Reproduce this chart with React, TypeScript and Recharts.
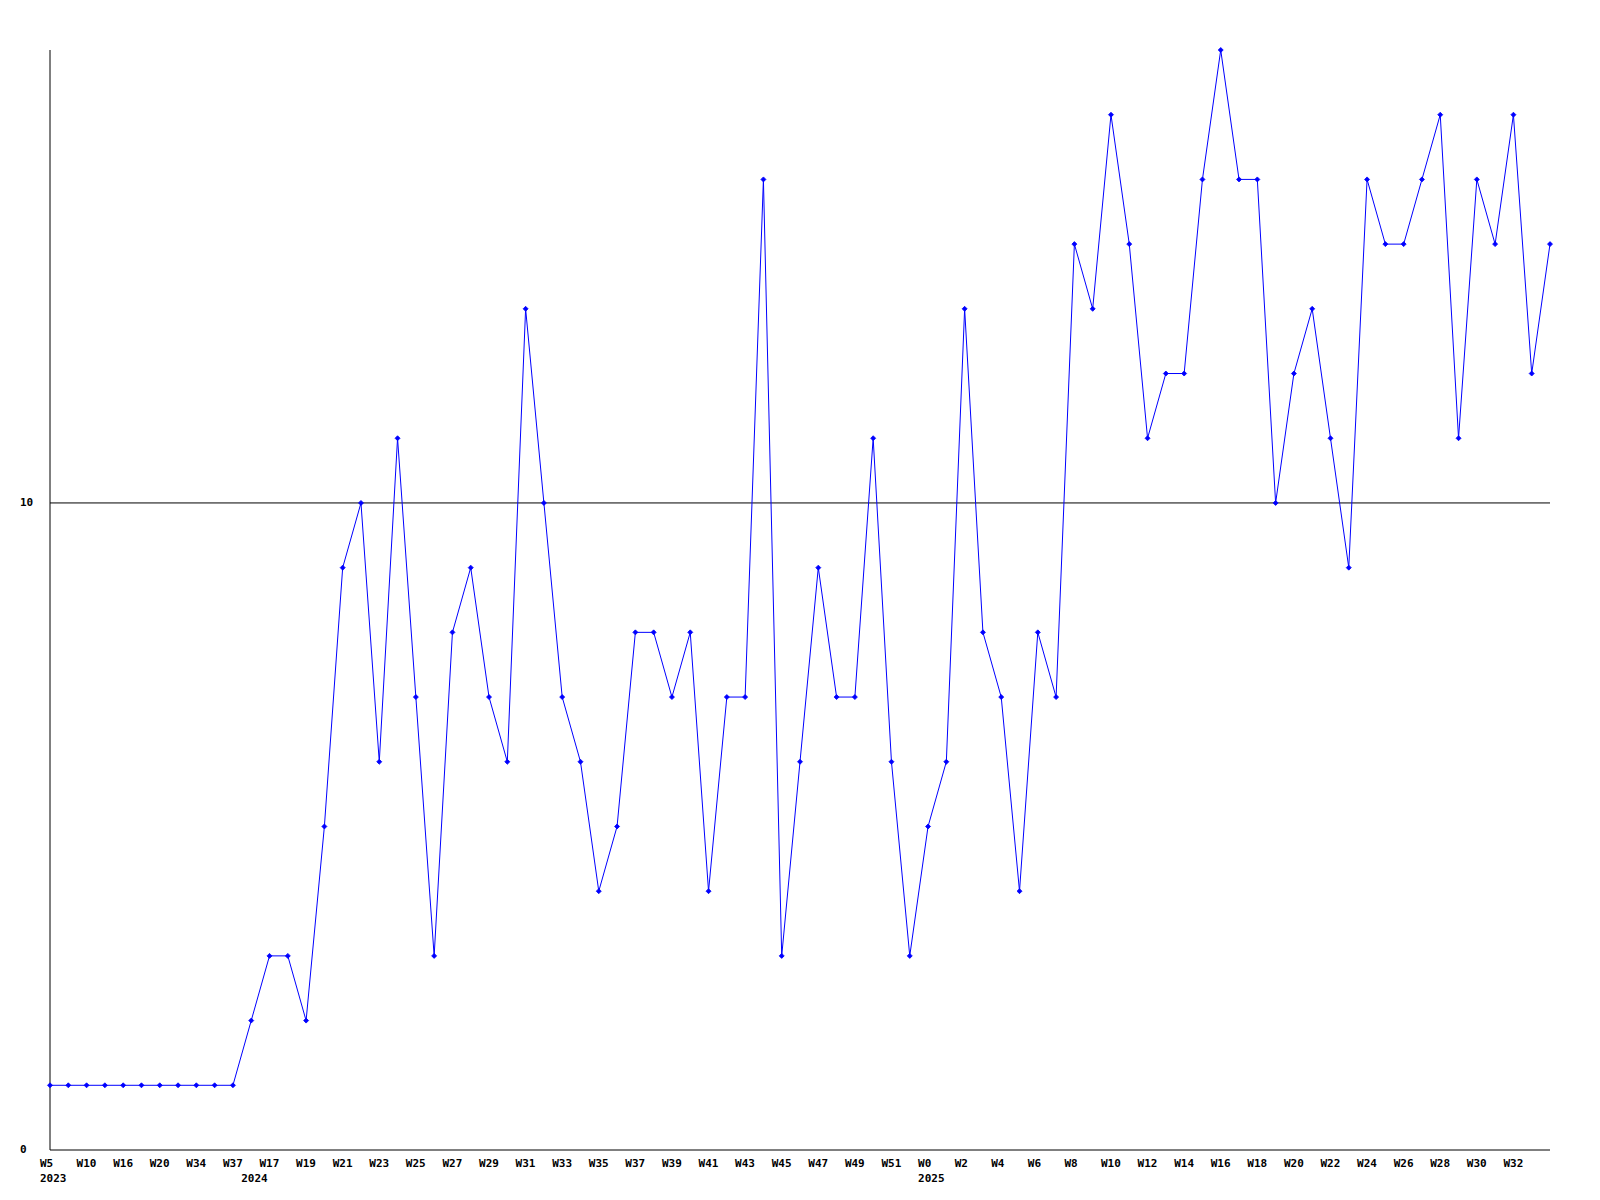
import { LineChart, Line, XAxis, YAxis, ReferenceLine } from "recharts";

const weeks2023 = ["W5", "W7", "W10", "W13", "W16", "W18", "W20", "W30", "W34", "W36", "W37"];
const weeks2024 = [
  "W16", "W17", "W18", "W19", "W20", "W21", "W22", "W23", "W24", "W25", "W26", "W27", "W28",
  "W29", "W30", "W31", "W32", "W33", "W34", "W35", "W36", "W37", "W38", "W39", "W40", "W41",
  "W42", "W43", "W44", "W45", "W46", "W47", "W48", "W49", "W50", "W51", "W52",
];
const weeks2025 = [
  "W0", "W1", "W2", "W3", "W4", "W5", "W6", "W7", "W8", "W9", "W10", "W11", "W12", "W13",
  "W14", "W15", "W16", "W17", "W18", "W19", "W20", "W21", "W22", "W23", "W24", "W25", "W26",
  "W27", "W28", "W29", "W30", "W31", "W32", "W33", "W34",
];

const counts2023 = [1, 1, 1, 1, 1, 1, 1, 1, 1, 1, 1];
const counts2024 = [
  2, 3, 3, 2, 5, 9, 10, 6, 11, 7, 3, 8, 9, 7, 6, 13, 10, 7, 6, 4, 5, 8, 8, 7, 8, 4, 7, 7, 15,
  3, 6, 9, 7, 7, 11, 6, 3,
];
const counts2025 = [
  5, 6, 13, 8, 7, 4, 8, 7, 14, 13, 16, 14, 11, 12, 12, 15, 17, 15, 15, 10, 12, 13, 11, 9, 15,
  14, 14, 15, 16, 11, 15, 14, 16, 12, 14,
];

const yTicks = [0, 10];

const data = [
  ...weeks2023.map((w, i) => ({ week: w, year: "2023", count: counts2023[i] })),
  ...weeks2024.map((w, i) => ({ week: w, year: "2024", count: counts2024[i] })),
  ...weeks2025.map((w, i) => ({ week: w, year: "2025", count: counts2025[i] })),
];

const FONT = "'DejaVu Sans Mono', monospace";

function WeekTick({ x, y, payload, index }: any) {
  const i = payload?.index ?? index;
  const row = data[i];
  const showYear = i === 0 || data[i - 1].year !== row.year;
  // last label would run past the plot edge, so it's left off
  const showWeek = i % 2 === 0 && i < data.length - 1;
  return (
    <g>
      {showWeek && (
        <text x={x - 10} y={y + 6} fontFamily={FONT} fontWeight="bold" fontSize={11} fill="#000" textAnchor="start" dominantBaseline="middle">
          {row.week}
        </text>
      )}
      {showYear && (
        <text x={x - 10} y={y + 21} fontFamily={FONT} fontWeight="bold" fontSize={11} fill="#000" textAnchor="start" dominantBaseline="middle">
          {row.year}
        </text>
      )}
    </g>
  );
}

function CountTick({ y, payload }: any) {
  return (
    <text x={20} y={y} fontFamily={FONT} fontWeight="bold" fontSize={11} fill="#000" textAnchor="start" dominantBaseline="middle">
      {payload.value}
    </text>
  );
}

function Marker({ cx, cy }: any) {
  if (cx == null || cy == null) return null;
  return (
    <path
      d={`M${cx},${cy - 2.5} L${cx + 2.5},${cy} L${cx},${cy + 2.5} L${cx - 2.5},${cy} Z`}
      fill="#0000ff"
      stroke="#0000ff"
      strokeWidth={0.8}
    />
  );
}

export default function App() {
  return (
    <div style={{ position: "absolute", left: 0, top: 0, background: "#fff" }}>
      <LineChart width={1600} height={1200} data={data} margin={{ top: 50, right: 50, bottom: 0, left: 0 }}>
        <XAxis
          dataKey="week"
          interval={0}
          tickLine={false}
          axisLine={{ stroke: "#000", strokeWidth: 1 }}
          tick={<WeekTick />}
          height={50}
        />
        <YAxis
          domain={[0, 17]}
          ticks={yTicks}
          tickLine={false}
          axisLine={{ stroke: "#000", strokeWidth: 1 }}
          tick={<CountTick />}
          width={50}
        />
        <ReferenceLine y={10} stroke="#000" strokeWidth={1} />
        <Line
          type="linear"
          dataKey="count"
          stroke="#0000ff"
          strokeWidth={1}
          dot={<Marker />}
          activeDot={false}
          isAnimationActive={false}
        />
      </LineChart>
    </div>
  );
}
